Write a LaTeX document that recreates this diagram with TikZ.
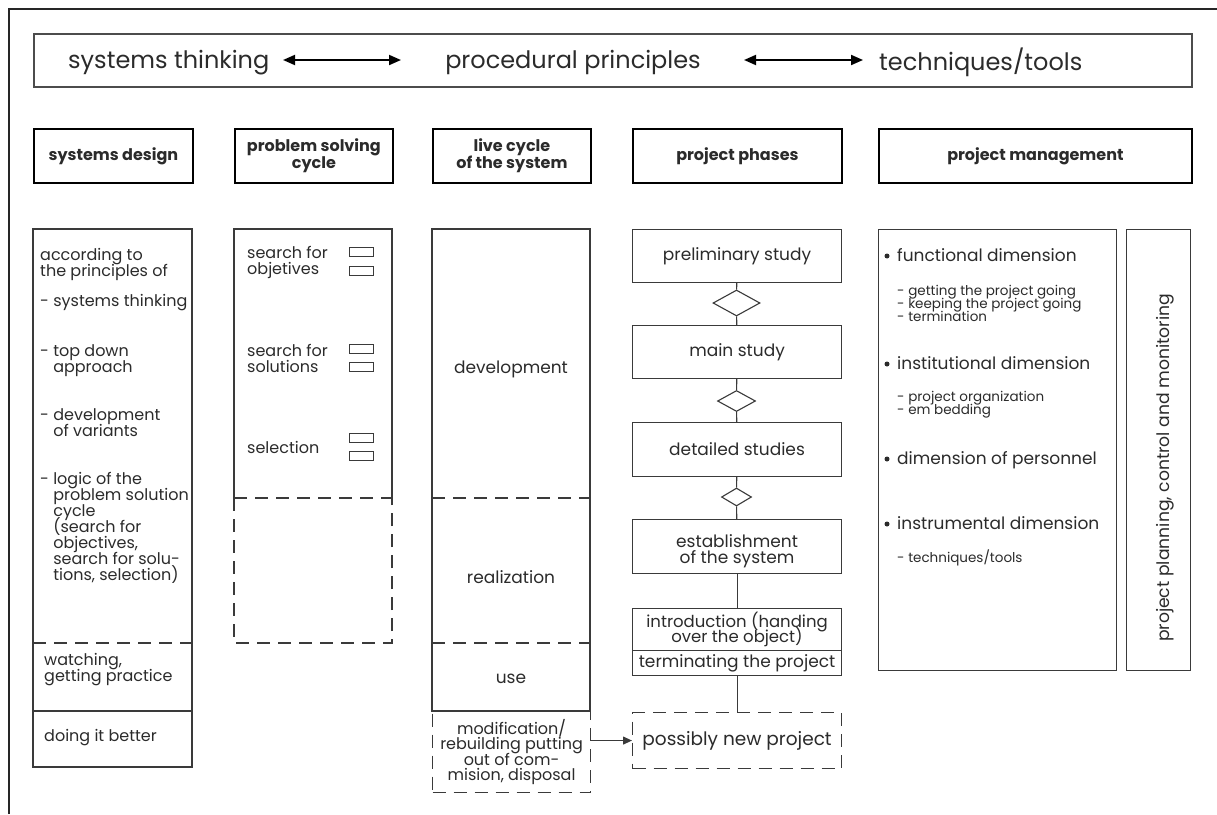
\documentclass[tikz,border=0pt]{standalone}
\usepackage{fontspec}
\setmainfont{Poppins}
\usetikzlibrary{arrows.meta,shapes.geometric}
\newcommand{\fsz}[2]{\fontsize{#1}{#2}\selectfont\lineskiplimit=-50pt\lineskip=0pt\relax}
\definecolor{ink}{HTML}{2B2B2B}
\definecolor{rule}{HTML}{3A3A3A}
\begin{document}
\begin{tikzpicture}[x=1pt,y=-1pt,
  every node/.style={inner sep=0pt, text=ink},
  barbox/.style={draw=black!70, line width=1.6pt, minimum width=1158pt, minimum height=53pt, anchor=north west},
  bartext/.style={font=\fsz{24}{26}},
  dblarrow/.style={{Triangle[length=12pt,width=10pt]}-{Triangle[length=12pt,width=10pt]}, line width=1.9pt, draw=black},
  headbox/.style={draw=black, line width=1.8pt, minimum height=54pt, anchor=north west, align=center, font=\fsz{16}{17}\bfseries},
  ln/.style={draw=rule, line width=1.1pt},
  dsh/.style={draw=rule, line width=1.1pt, dash pattern=on 13pt off 8pt},
  txt/.style={font=\fsz{16}{16}, align=left, anchor=west},
  ctxt/.style={font=\fsz{17}{16}, align=center},
  phase/.style={draw=rule, line width=1.1pt, minimum width=209pt, anchor=north west, align=center, font=\fsz{17}{16}},
  gate/.style={diamond, draw=rule, line width=1.1pt},
  tickbox/.style={draw=rule, line width=0.9pt, minimum width=24pt, minimum height=9pt, anchor=north west},
  bulletdot/.style={circle, fill=ink, minimum size=5pt},
  pmhead/.style={font=\fsz{17}{18}, anchor=base west},
  pmsub/.style={font=\fsz{13.5}{13}, align=left, anchor=west},
]
\useasboundingbox (0,0) rectangle (1217,814);
\fill[white] (0,0) rectangle (1217,814);

% page frame (top and left edges)
\draw[line width=1.2pt, black!85] (9,814) -- (9,9) -- (1217,9);

% top bar
\node[barbox] (bar) at (33,33) {};
\node[bartext, anchor=west] (st) at (68,62.5) {systems thinking};
\node[bartext] (pp) at (573,62.5) {procedural principles};
\node[bartext, anchor=west] (tt) at (879,62.5) {techniques/tools};
\coordinate (a1l) at (283,60);
\coordinate (a1r) at (401,60);
\coordinate (a2l) at (744,60);
\coordinate (a2r) at (863,60);
\draw[dblarrow] (a1l) -- (a1r);
\draw[dblarrow] (a2l) -- (a2r);

% column headers
\node[headbox, minimum width=159pt] (hsd) at (33,128) {systems design};
\node[headbox, minimum width=158pt] (hps) at (234,128) {problem solving\\cycle};
\node[headbox, minimum width=158pt] (hlc) at (432,128) {live cycle\\of the system};
\node[headbox, minimum width=209pt] (hpp) at (632,128) {project phases};
\node[headbox, minimum width=313pt] (hpm) at (878,128) {project management};

% systems design column
\draw[ln] (33,229) rectangle (192,767);
\draw[dsh] (33,643) -- (192,643);
\draw[ln] (33,711) -- (192,711);
\node[txt] (sd1) at (40,264) {according to\\the principles of};
\node[txt] (sd2) at (40,303) {- systems thinking};
\node[txt] (sd3) at (40,360.5) {- top down\\\hphantom{- }approach};
\node[txt] (sd4) at (40,423) {- development\\\hphantom{- }of variants};
\node[txt] (sd5) at (40,527.5) {- logic of the\\\hphantom{- }problem solution\\\hphantom{- }cycle\\\hphantom{- }(search for\\\hphantom{- }objectives,\\\hphantom{- }search for solu-\\\hphantom{- }tions, selection)};
\node[txt] (sd6) at (44,669.5) {watching,\\getting practice};
\node[txt] (sd7) at (44,738) {doing it better};

% problem solving cycle column
\draw[ln] (234,498) -- (234,229) -- (392,229) -- (392,498);
\draw[dsh] (234,498) -- (392,498);
\draw[dsh] (234,498) -- (234,643) -- (392,643) -- (392,498);
\node[txt] (ps1) at (247,262) {search for\\objetives};
\node[txt] (ps2) at (247,358.5) {search for\\solutions};
\node[txt] (ps3) at (247,447) {selection};
\node[tickbox] (t1a) at (349,247) {};
\node[tickbox] (t1b) at (349,266) {};
\node[tickbox] (t2a) at (349,344) {};
\node[tickbox] (t2b) at (349,362) {};
\node[tickbox] (t3a) at (349,433) {};
\node[tickbox] (t3b) at (349,451) {};

% life cycle column
\node[draw=rule, line width=1.1pt, dash pattern=on 13pt off 8pt, minimum width=158pt, minimum height=81pt, anchor=north west, align=center, font=\fsz{16}{15.5}] (mod) at (432,711) {modification/\\rebuilding putting\\out of com-\\mision, disposal};
\draw[ln] (432,229) rectangle (590,711);
\draw[dsh] (432,498) -- (590,498);
\draw[dsh] (432,643) -- (590,643);
\node[ctxt] (dev) at (511,369) {development};
\node[ctxt] (rea) at (511,577) {realization};
\node[ctxt] (use) at (511,679) {use};

% project phases
\node[phase, minimum height=53pt] (pre) at (632,229) {preliminary study};
\node[gate, minimum width=47pt, minimum height=26pt] (g1) at (736.5,303) {};
\node[phase, minimum height=53pt] (mst) at (632,325) {main study};
\node[gate, minimum width=38pt, minimum height=21pt] (g2) at (736.5,401) {};
\node[phase, minimum height=54pt] (det) at (632,422) {detailed studies};
\node[gate, minimum width=30pt, minimum height=18pt] (g3) at (736.5,497) {};
\node[phase, minimum height=54pt] (est) at (632,519) {};
\node[ctxt, yshift=-5pt] (estt) at (est.center) {establishment\\of the system};
\node[phase, minimum height=42pt] (intro) at (632,608) {};
\node[ctxt, font=\fsz{16.5}{15.5}] (introt) at (intro.center) {introduction (handing\\over the object)};
\node[phase, minimum height=25pt] (term) at (632,650) {terminating the project};
\node[phase, dash pattern=on 13pt off 8pt, minimum height=56pt, font=\fsz{18.5}{18}] (np) at (632,712) {possibly new project};
\draw[ln] (pre) -- (g1);
\draw[ln] (g1) -- (mst);
\draw[ln] (mst) -- (g2);
\draw[ln] (g2) -- (det);
\draw[ln] (det) -- (g3);
\draw[ln] (g3) -- (est);
\draw[ln] (est) -- (intro);
\draw[ln] (term) -- (np);
\draw[ln, -{Triangle[length=9pt,width=8pt]}] (mod.east |- np.west) -- (np.west);

% project management
\node[draw=rule, line width=1.1pt, minimum width=238pt, minimum height=441pt, anchor=north west] (pmbody) at (878,229) {};
\node[draw=rule, line width=1.1pt, minimum width=64pt, minimum height=441pt, anchor=north west] (pmside) at (1126,229) {};
\node[rotate=90, font=\fsz{17.2}{17}] (ppcm) at (1165,468) {project planning, control and monitoring};

\node[bulletdot] (b1) at (887,256) {};
\node[pmhead] (fd) at (897,261) {functional dimension};
\node[pmsub] (fds) at (897,303) {- getting the project going\\- keeping the project going\\- termination};
\node[bulletdot] (b2) at (887,364) {};
\node[pmhead] (id) at (897,369) {institutional dimension};
\node[pmsub] (ids) at (897,405) {- project organization\\- em bedding};
\node[bulletdot] (b3) at (887,459) {};
\node[pmhead] (dp) at (897,464) {dimension of personnel};
\node[bulletdot] (b4) at (887,524) {};
\node[pmhead] (ind) at (897,529) {instrumental dimension};
\node[pmsub] (inds) at (897,558) {- techniques/tools};
\end{tikzpicture}
\end{document}
